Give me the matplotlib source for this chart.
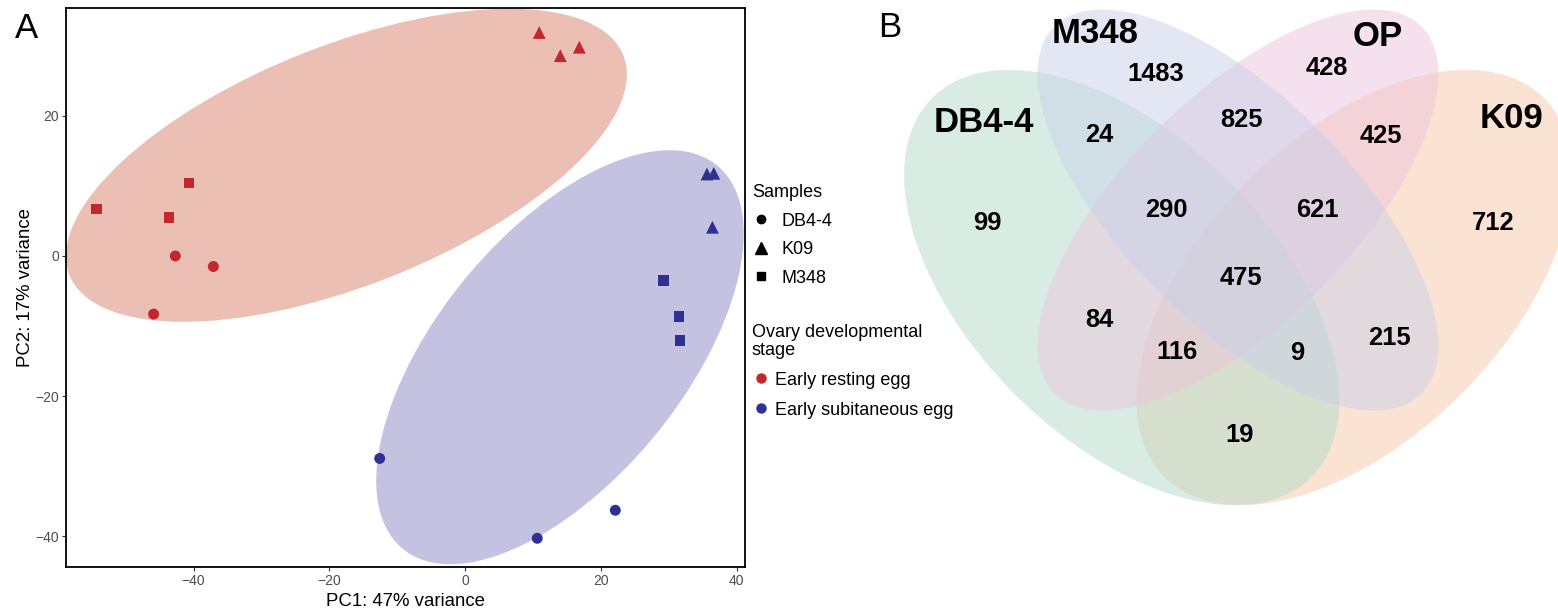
import numpy as np
import matplotlib.pyplot as plt
from matplotlib.patches import Ellipse
from matplotlib.lines import Line2D

plt.rcParams['font.family'] = ['Liberation Sans', 'DejaVu Sans']

# ---- PCA scores (panel A) ----
pc1 = [-42.7, -37.1, -45.9, 10.9, 14.0, 16.8, -54.3, -40.7, -43.6,
       -12.6, 10.6, 22.1, 35.6, 36.6, 36.4, 29.2, 31.5, 31.6]
pc2 = [0.0, -1.5, -8.3, 31.9, 28.6, 29.8, 6.7, 10.4, 5.5,
       -28.9, -40.3, -36.3, 11.7, 11.8, 4.1, -3.5, -8.6, -12.1]
sample = ['DB4-4'] * 3 + ['K09'] * 3 + ['M348'] * 3 + \
         ['DB4-4'] * 3 + ['K09'] * 3 + ['M348'] * 3
stage = ['Early resting egg'] * 9 + ['Early subitaneous egg'] * 9

samples = ['DB4-4', 'K09', 'M348']
stages = ['Early resting egg', 'Early subitaneous egg']

# 95% ellipses per stage: centre, full width/height, angle (deg)
ell_cx = [-17.5, 13.95]
ell_cy = [12.95, -14.45]
ell_w = [87.4, 71.7]
ell_h = [34.4, 35.8]
ell_ang = [20.8, 49.2]

# ---- Venn counts (panel B) ----
set_names = ['DB4-4', 'M348', 'OP', 'K09']
# region key: which sets (D, M, O, K) the genes fall in
venn_regions = ['D', 'M', 'O', 'K', 'DM', 'MO', 'OK', 'DO', 'MK', 'DK',
                'DMO', 'MOK', 'DOK', 'DMK', 'DMOK']
venn_counts = [99, 1483, 428, 712, 24, 825, 425, 84, 215, 19,
               290, 621, 116, 9, 475]

stage_col = {'Early resting egg': '#C1272D', 'Early subitaneous egg': '#2E3192'}
ell_col = ['#ECBFB4', '#C3C3E1']
shape_mk = {'DB4-4': 'o', 'K09': '^', 'M348': 's'}
shape_sz = {'DB4-4': 62, 'K09': 85, 'M348': 58}

W, H = 1558, 613
fig = plt.figure(figsize=(W / 100, H / 100), dpi=100)

ax = fig.add_axes([66 / W, 1 - 567 / H, (745 - 66) / W, (567 - 8) / H])
for i in range(2):
    ax.add_patch(Ellipse((ell_cx[i], ell_cy[i]), ell_w[i], ell_h[i],
                         angle=ell_ang[i], facecolor=ell_col[i],
                         edgecolor='none', zorder=1))

pc1 = np.array(pc1)
pc2 = np.array(pc2)
sample = np.array(sample)
stage = np.array(stage)
for st in stages:
    for sm in samples:
        m = (stage == st) & (sample == sm)
        ax.scatter(pc1[m], pc2[m], marker=shape_mk[sm], s=shape_sz[sm],
                   color=stage_col[st], edgecolor='none', zorder=3)

ax.set_xlim(-58.8, 41.2)
ax.set_ylim(-44.4, 35.4)
ax.set_xticks([-40, -20, 0, 20, 40])
ax.set_yticks([-40, -20, 0, 20])
for sp in ax.spines.values():
    sp.set_linewidth(1.3)
ax.tick_params(length=2.9, width=0.8, color='#333333', labelcolor='#4D4D4D',
               labelsize=10, pad=2)
ax.set_xlabel('PC1: 47% variance', fontsize=13.4, labelpad=4)
ax.set_ylabel('PC2: 17% variance', fontsize=13.4, labelpad=1)

# legends
h_shape = [Line2D([], [], marker=shape_mk[s], color='black', linestyle='none',
                  markersize=8 if s == 'K09' else 6) for s in samples]
leg1 = ax.legend(h_shape, samples, title='Samples', loc='upper left',
                 bbox_to_anchor=(752 / W, 1 - 184 / H),
                 bbox_transform=fig.transFigure, frameon=False,
                 alignment='left', borderpad=0, borderaxespad=0,
                 handlelength=1.0, handletextpad=0.65, labelspacing=0.64,
                 fontsize=13, title_fontsize=13)
ax.add_artist(leg1)
h_stage = [Line2D([], [], marker='o', color=stage_col[s], linestyle='none',
                  markersize=6.5) for s in stages]
leg2 = ax.legend(h_stage, stages, title='Ovary developmental\nstage',
                 loc='upper left', bbox_to_anchor=(752 / W, 1 - 324 / H),
                 bbox_transform=fig.transFigure, frameon=False,
                 alignment='left', borderpad=0, borderaxespad=0,
                 handlelength=1.0, handletextpad=0.3, labelspacing=0.72,
                 fontsize=13, title_fontsize=13)
leg2.get_title().set_linespacing(1.05)

fig.text(15 / W, 1 - 38 / H, 'A', fontsize=25, va='baseline')
fig.text(878 / W, 1 - 37 / H, 'B', fontsize=25, va='baseline')

# ---- Venn diagram ----
vax = fig.add_axes([860 / W, 0, (W - 860) / W, 1])
vax.set_xlim(0.0123, 0.9129)
vax.set_ylim(0.05, 0.841)
vax.axis('off')

venn_fill = ['#B3DBC9', '#C9D1E9', '#EDC5DD', '#F9C9A9']
venn_xy = [(0.35, 0.47), (0.5, 0.57), (0.5, 0.57), (0.65, 0.47)]
venn_ab = [(0.346, 0.195), (0.335, 0.147), (0.335, 0.147), (0.346, 0.195)]
venn_rot = [-45, -45, 45, 45]
# painting order: K09, DB4-4, OP, M348
for i in [3, 0, 2, 1]:
    a, b = venn_ab[i]
    vax.add_patch(Ellipse(venn_xy[i], 2 * a, 2 * b, angle=venn_rot[i],
                          facecolor=venn_fill[i], edgecolor='none', alpha=0.5))

name_xy = [(0.172, 0.683), (0.316, 0.798), (0.680, 0.794), (0.853, 0.688)]
for nm, (x, y) in zip(set_names, name_xy):
    vax.text(x, y, nm, fontsize=25, fontweight='bold', ha='center', va='center')

count_xy = {'D': (0.177, 0.553), 'M': (0.394, 0.745), 'O': (0.614, 0.753),
            'K': (0.829, 0.553), 'DM': (0.321, 0.667), 'MO': (0.504, 0.686),
            'OK': (0.685, 0.666), 'DO': (0.321, 0.428), 'MK': (0.696, 0.405),
            'DK': (0.502, 0.280), 'DMO': (0.407, 0.570), 'MOK': (0.603, 0.570),
            'DOK': (0.421, 0.387), 'DMK': (0.577, 0.385), 'DMOK': (0.504, 0.482)}
for r, n in zip(venn_regions, venn_counts):
    x, y = count_xy[r]
    vax.text(x, y, str(n), fontsize=18.4, fontweight='bold', ha='center',
             va='center')

fig.savefig('out.png', dpi=100)
